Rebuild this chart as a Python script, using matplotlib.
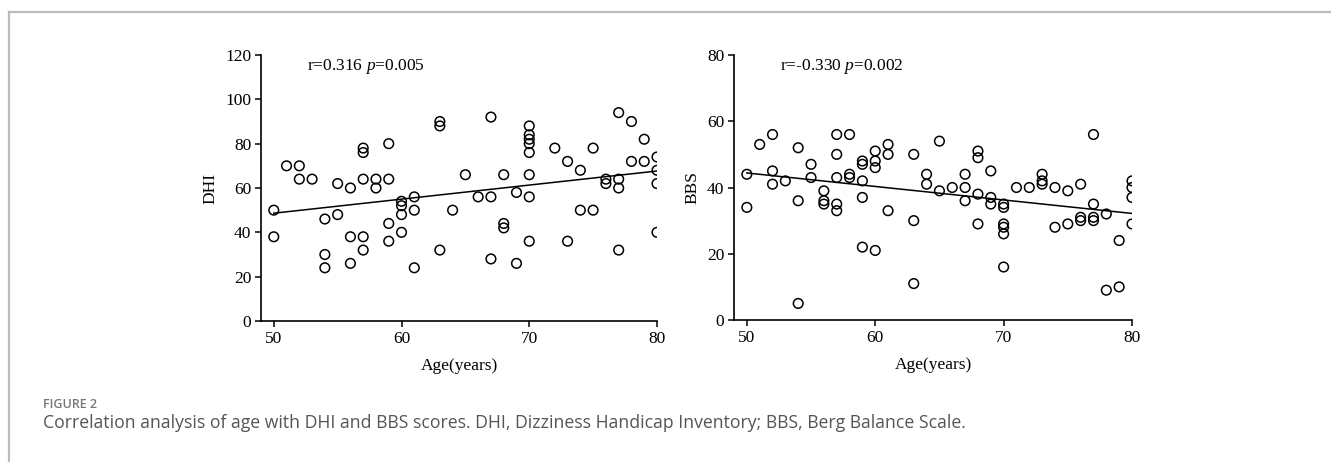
import numpy as np
import matplotlib
matplotlib.use("Agg")
import matplotlib.pyplot as plt
from matplotlib.lines import Line2D

# Edad (años) y puntuación DHI
dhi_age = [50, 50, 51, 52, 52, 53, 54, 54, 54, 55, 55, 56, 56, 56,
           57, 57, 57, 57, 57, 58, 58, 59, 59, 59, 59, 60, 60, 60, 60,
           61, 61, 61, 63, 63, 63, 64, 65, 66, 67, 67, 67, 68, 68, 68,
           69, 69, 70, 70, 70, 70, 70, 70, 70, 70, 72, 73, 73, 74, 74,
           75, 75, 76, 76, 77, 77, 77, 77, 78, 78, 79, 79, 80, 80, 80, 80]
dhi_score = [50, 38, 70, 70, 64, 64, 46, 30, 24, 62, 48, 60, 38, 26,
             78, 76, 64, 38, 32, 64, 60, 80, 64, 44, 36, 54, 52, 48, 40,
             56, 50, 24, 90, 88, 32, 50, 66, 56, 92, 56, 28, 66, 44, 42,
             58, 26, 88, 84, 82, 80, 76, 66, 56, 36, 78, 72, 36, 68, 50,
             78, 50, 64, 62, 94, 64, 60, 32, 90, 72, 82, 72, 74, 68, 62, 40]

# Edad (años) y puntuación BBS
bbs_age = [50, 50, 51, 52, 52, 52, 53, 54, 54, 54, 55, 55, 56, 56, 56,
           57, 57, 57, 57, 57, 58, 58, 58, 59, 59, 59, 59, 59, 60, 60, 60, 60,
           61, 61, 61, 63, 63, 63, 64, 64, 65, 65, 66, 67, 67, 67,
           68, 68, 68, 68, 69, 69, 69, 70, 70, 70, 70, 70, 70, 71, 72,
           73, 73, 73, 74, 74, 75, 75, 76, 76, 76, 77, 77, 77, 77,
           78, 78, 79, 79, 80, 80, 80, 80]
bbs_score = [44, 34, 53, 56, 45, 41, 42, 52, 36, 5, 47, 43, 39, 36, 35,
             56, 50, 43, 35, 33, 56, 44, 43, 48, 47, 42, 37, 22, 51, 48, 46, 21,
             53, 50, 33, 50, 30, 11, 44, 41, 54, 39, 40, 44, 40, 36,
             51, 49, 38, 29, 45, 37, 35, 35, 34, 29, 28, 26, 16, 40, 40,
             44, 42, 41, 40, 28, 39, 29, 41, 31, 30, 56, 35, 31, 30,
             32, 9, 24, 10, 42, 40, 37, 29]

dhi_stats = "r=0.316 $\\it{p}$=0.005"
bbs_stats = "r=-0.330 $\\it{p}$=0.002"

plt.rcParams['font.family'] = ['Liberation Serif', 'DejaVu Serif']
plt.rcParams['mathtext.fontset'] = 'custom'
plt.rcParams['mathtext.it'] = 'Liberation Serif:italic'
plt.rcParams['mathtext.rm'] = 'Liberation Serif'

fig = plt.figure(figsize=(13.31, 4.62), dpi=100)

# Marco gris de la figura (arriba e izquierda)
fig.add_artist(Line2D([8.5 / 1331, 1], [1 - 11.5 / 462, 1 - 11.5 / 462],
                      color='#bbbbbb', lw=1.6, transform=fig.transFigure))
fig.add_artist(Line2D([8.5 / 1331, 8.5 / 1331], [0, 1 - 11.5 / 462],
                      color='#bbbbbb', lw=1.6, transform=fig.transFigure))

ax1 = fig.add_axes([261 / 1331, 141 / 462, 396 / 1331, 266 / 462])
ax2 = fig.add_axes([734 / 1331, 142 / 462, 398 / 1331, 265 / 462])


def panel(ax, x, y, ymax, ylabel, stats):
    ax.scatter(x, y, s=48, facecolors='none', edgecolors='black', linewidths=1.1, zorder=3)
    # recta de regresión
    coef = np.polyfit(x, y, 1)
    xx = np.array([50, 80])
    ax.plot(xx, np.polyval(coef, xx), color='black', lw=1.1)
    ax.set_xlim(49, 80)
    ax.set_ylim(0, ymax)
    ax.set_xticks([50, 60, 70, 80])
    ax.set_yticks(np.arange(0, ymax + 1, 20))
    for s in ['top', 'right']:
        ax.spines[s].set_visible(False)
    for s in ['left', 'bottom']:
        ax.spines[s].set_linewidth(1.2)
    ax.tick_params(direction='out', length=4, width=1.1, labelsize=12.5, pad=3)
    ax.set_xlabel('Age(years)', fontsize=12.5, labelpad=8)
    ax.set_ylabel(ylabel, fontsize=12.5, labelpad=5)
    ax.text(0.115, 0.955, stats, transform=ax.transAxes, fontsize=12.5, va='center', ha='left')


panel(ax1, dhi_age, dhi_score, 120, 'DHI', dhi_stats)
panel(ax2, bbs_age, bbs_score, 80, 'BBS', bbs_stats)

fig.text(43 / 1331, 1 - 405 / 462, 'FIGURE 2', family='Open Sans', fontsize=9,
         fontweight='semibold', color='#777777', va='center')
fig.text(43 / 1331, 1 - 423 / 462,
         'Correlation analysis of age with DHI and BBS scores. DHI, Dizziness Handicap Inventory; BBS, Berg Balance Scale.',
         family='Open Sans', fontsize=12.7, color='#555555', va='center')

fig.savefig('out.png', dpi=100)
